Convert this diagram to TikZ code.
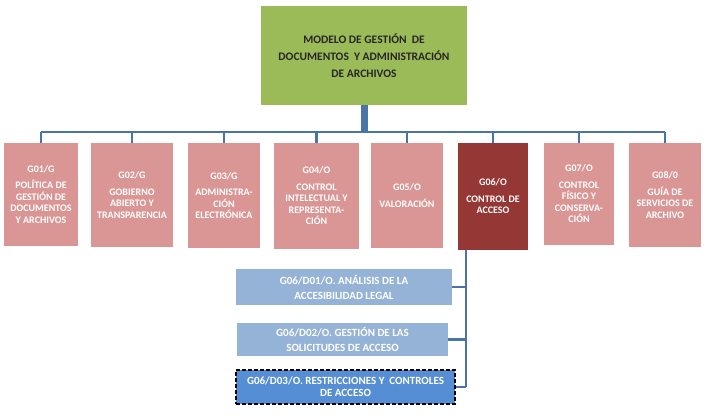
\documentclass[tikz,border=0pt]{standalone}
\usepackage{fontspec}
\setmainfont{Carlito}
\usetikzlibrary{positioning}
\definecolor{verde}{HTML}{9BBB59}
\definecolor{rosa}{HTML}{D99694}
\definecolor{granate}{HTML}{953735}
\definecolor{azulc}{HTML}{95B3D7}
\definecolor{azulm}{HTML}{558ED5}
\definecolor{linea}{HTML}{4A74A8}
\tikzset{
  grupo/.style={fill=rosa, text=white, font=\bfseries\fontsize{10}{11.5}\selectfont, align=center, inner sep=1pt},
  subgrupo/.style={fill=azulc, text=white, font=\bfseries\fontsize{11}{15}\selectfont, align=center, inner sep=1pt},
  rama/.style={linea, line width=2.4pt}
}
\begin{document}
\begin{tikzpicture}[x=1pt, y=-1pt]
    \useasboundingbox (0,0) rectangle (706,415);
    % modelo
    \node[fill=verde, minimum width=206pt, minimum height=99pt, font=\bfseries\fontsize{11.5}{17}\selectfont, text=black!85, align=center] (modelo) at (364,55.5) {MODELO DE GESTIÓN\ \ DE\\DOCUMENTOS\ \ Y ADMINISTRACIÓN\\DE ARCHIVOS};
    % grupos
    \node[grupo, minimum width=74pt, minimum height=103pt] (g01) at (41,194.5) {G01/G\\[5pt]POLÍTICA DE\\GESTIÓN DE\\DOCUMENTOS\\Y ARCHIVOS};
    \node[grupo, minimum width=82pt, minimum height=104pt] (g02) at (132,195) {G02/G\\[5pt]GOBIERNO\\ABIERTO Y\\TRANSPARENCIA};
    \node[grupo, minimum width=72pt, minimum height=105pt] (g03) at (224,195.5) {G03/G\\[5pt]ADMINISTRA-\\CIÓN\\ELECTRÓNICA};
    \node[grupo, minimum width=85pt, minimum height=106pt] (g04) at (316.5,196) {G04/O\\[5pt]CONTROL\\INTELECTUAL Y\\REPRESENTA-\\CIÓN};
    \node[grupo, minimum width=72pt, minimum height=105pt] (g05) at (407,195.5) {G05/O\\[5pt]VALORACIÓN};
    \node[grupo, fill=granate, minimum width=70pt, minimum height=107pt] (g06) at (493,196.5) {G06/O\\[5pt]CONTROL DE\\ACCESO};
    \node[grupo, minimum width=70pt, minimum height=102pt] (g07) at (579,194) {G07/O\\[5pt]CONTROL\\FÍSICO Y\\CONSERVA-\\CIÓN};
    \node[grupo, minimum width=72pt, minimum height=104pt] (g08) at (665,195) {G08/0\\[5pt]GUÍA DE\\SERVICIOS DE\\ARCHIVO};
    % subgrupos
    \node[subgrupo, minimum width=216pt, minimum height=36pt] (d01) at (344,287) {G06/D01/O. ANÁLISIS DE LA\\ACCESIBILIDAD LEGAL};
    \node[subgrupo, minimum width=211pt, minimum height=33pt] (d02) at (342.5,339.5) {G06/D02/O. GESTIÓN DE LAS\\SOLICITUDES DE ACCESO};
    \node[subgrupo, fill=azulm, draw=black, line width=2pt, dash pattern=on 4pt off 2pt, minimum width=219pt, minimum height=34pt, font=\bfseries\fontsize{11}{12}\selectfont] (d03) at (345.5,387) {G06/D03/O. RESTRICCIONES Y\ \ CONTROLES\\DE ACCESO};
    % conectores
    \coordinate (bus) at (364,132);
    \draw[linea, line width=7pt] (modelo.south) -- (bus);
    \draw[rama] (g01.north |- bus) -- (g08.north |- bus);
    \foreach \g in {g01,g02,g03,g04,g05,g06,g07,g08}
        \draw[rama] (\g.north |- bus) -- (\g.north);
    \coordinate (eje) at (466,0);
    \draw[rama] (eje |- g06.south) -- (eje |- d03.east);
    \foreach \d in {d01,d02,d03}
        \draw[rama] (eje |- \d.east) -- (\d.east);
\end{tikzpicture}
\end{document}
